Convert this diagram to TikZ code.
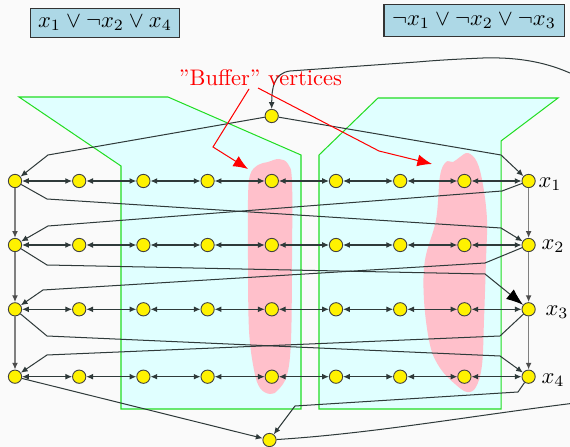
\documentclass[tikz,border=0pt]{standalone}
\usetikzlibrary{arrows.meta}
\definecolor{edgec}{HTML}{2F3A3A}
\definecolor{cyanfill}{HTML}{E0FFFF}
\definecolor{gadget}{HTML}{22DD22}
\definecolor{blob}{HTML}{FFC0CB}
\definecolor{clause}{HTML}{ADD8E6}
\definecolor{bgc}{HTML}{FAFAFA}
\begin{document}
\begin{tikzpicture}[x=0.4444pt,y=-0.4444pt,
  vert/.style={circle,fill=yellow,draw=black!75,line width=0.4pt,inner sep=0pt,minimum size=5.9pt},
  edge/.style={draw=edgec,line width=0.45pt},
  darr/.style={edge,-{Latex[length=3pt,width=2.6pt]}},
  hedge/.style={edge,{Latex[length=3pt,width=2.6pt]}-{Latex[length=3pt,width=2.6pt]}},
  bigarr/.style={edge,-{Latex[length=7.5pt,width=5.5pt,color=black]}},
  vedge/.style={draw=gray,line width=0.7pt,-{Latex[length=3pt,width=2.6pt,color=black!70]}},
  gadgetbox/.style={draw=gadget,fill=cyanfill,line width=0.45pt},
  clausebox/.style={draw=black!80,fill=clause,line width=0.45pt,inner sep=0pt},
  redarr/.style={draw=red,line width=0.45pt,-{Latex[length=6.5pt,width=5.3pt]}},
  lbl/.style={inner sep=0pt}
]
\fill[bgc] (0,0) rectangle (570,447);
\clip (0,0) rectangle (570,447);

% clause gadgets
\draw[gadgetbox] (19,97) -- (168,97) -- (301,155) -- (301,409) -- (121,409) -- (121,166) -- cycle;
\draw[gadgetbox] (378,98) -- (558,98) -- (501,141) -- (501,409) -- (319,409) -- (319,155) -- cycle;

% buffer blobs
\fill[blob] plot[smooth cycle,tension=0.6] coordinates {(250,175) (258,165) (268,162) (279,159) (288,164) (292,182) (292,260) (291,340) (287,375) (278,390) (270,394) (260,388) (254,370) (249,330) (248,260) (248,200)};
\fill[blob] plot[smooth cycle,tension=0.6] coordinates {(436,220) (440,176) (446,162) (453,162) (460,157) (468,153) (477,162) (483,185) (487,220) (486,260) (484,320) (482,365) (476,387) (467,392) (455,384) (440,368) (430,345) (424,300) (425,260)};

% clause boxes
\node[clausebox,minimum width=65.8pt,minimum height=13.3pt] (c1) at (105,23) {$x_1 \vee \neg x_2 \vee x_4$};
\node[clausebox,minimum width=80pt,minimum height=13.8pt] (c2) at (474,20.5) {$\neg x_1 \vee \neg x_2 \vee \neg x_3$};

% vertices
\foreach \r/\y in {1/181,2/245,3/309.3,4/376.7}
  \foreach \k in {0,...,8}
    \node[vert] (v\r\k) at ({15+64.2*\k},\y) {};
\node[vert] (t) at (271.7,116) {};
\node[vert] (b) at (269.5,440) {};

% labels
\node[lbl] (l1) at (550,184) {$x_1$};
\node[lbl] (l2) at (553,246) {$x_2$};
\node[lbl] (l3) at (557,312) {$x_3$};
\node[lbl] (l4) at (553,380) {$x_4$};

% horizontal edges
\foreach \r in {1,2,3,4}
  \foreach \ka/\kb in {0/1,1/2,2/3,3/4,4/5,5/6,6/7,7/8}
    \draw[hedge] (v\r\ka) -- (v\r\kb);

% vertical edges
\draw[vedge] (v10) -- (v20);
\draw[vedge] (v20) -- (v30);
\draw[vedge] (v30) -- (v40);
\draw[vedge] (v18) -- (v28);
\draw[vedge] (v28) -- (v38);
\draw[vedge] (v38) -- (v48);

% cross edges
\draw[darr] (t) -- (48,155) -- (v10);
\draw[darr] (t) -- (501,155) -- (v18);
\draw[darr] (v10) -- (47,199) -- (501,228) -- (v28);
\draw[darr] (v18) -- (502,191) -- (48,226) -- (v20);
\draw[bigarr] (v20) -- (47,265) -- (485,274) -- (v38);
\draw[darr] (v28) -- (485,263) -- (43,290) -- (v30);
\draw[darr] (v30) -- (47,336) -- (500,356) -- (v48);
\draw[darr] (v38) -- (500,336) -- (47,355) -- (v40);
\draw[darr] (v40) -- (b);
\draw[darr] (v48) -- (518,392) -- (295,406) -- (b);

% wrap-around edge
\draw[darr] (b) .. controls (380,433) and (480,414) .. (600,400)
  .. controls (700,380) and (700,100) .. (600,90)
  .. controls (560,62) and (520,57) .. (483,58)
  .. controls (460,59) and (440,60) .. (417,62)
  -- (290,71) .. controls (274,73) and (271.7,88) .. (t);

% buffer annotation
\node[text=red,anchor=base,inner sep=0pt] (buf) at (260.5,86) {”Buffer” vertices};
\coordinate (ra) at (249,89);
\coordinate (rb) at (258,88);
\coordinate (ta) at (248,169);
\coordinate (tb) at (432,164);
\draw[redarr] (ra) -- (213,147) -- (ta);
\draw[redarr] (rb) -- (379,151) -- (tb);
\end{tikzpicture}
\end{document}
